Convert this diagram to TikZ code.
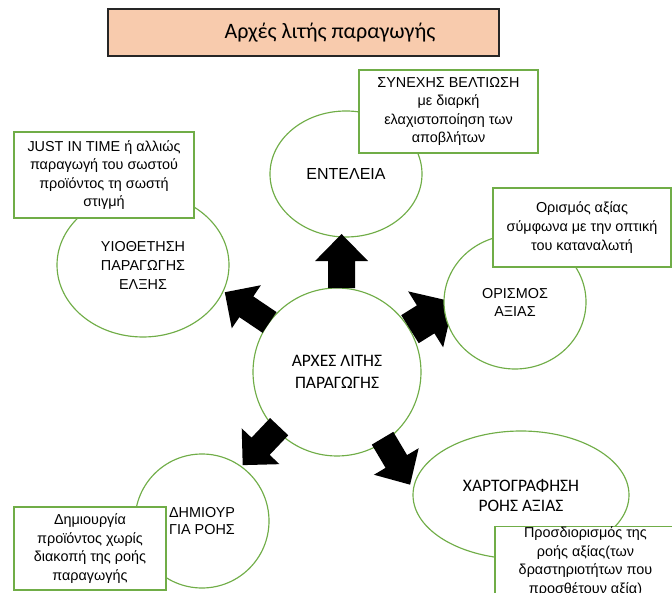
\documentclass[tikz,border=0pt]{standalone}
\usepackage{fontspec}
\setmainfont{Liberation Sans}
\newfontfamily\calibri{Carlito}
\usetikzlibrary{shapes.geometric,calc}
\definecolor{leafgreen}{HTML}{70AD47}
\definecolor{peach}{HTML}{F8CBAD}

\tikzset{
  bubble/.style={ellipse, draw=leafgreen, line width=1.15pt, fill=white,
    inner sep=0pt, align=center},
  notebox/.style={rectangle, draw=leafgreen, line width=1.15pt, fill=white,
    inner sep=0pt, align=center, font=\fontsize{14.4}{18.6}\selectfont},
  titlebox/.style={rectangle, draw=black!85, line width=1.5pt, fill=peach,
    inner sep=0pt, font=\calibri\fontsize{22}{26}\selectfont},
  % block arrow along +x: shaft width, shaft length, head width, head length
  pics/blockarrow/.style n args={4}{code={
    \fill[black] (0,-#1/2) -- (#2,-#1/2) -- (#2,-#3/2) -- (#2+#4,0)
      -- (#2,#3/2) -- (#2,#1/2) -- (0,#1/2) -- cycle;
  }}
}

\begin{document}
\begin{tikzpicture}[x=1pt,y=1pt]
\clip (0,0) rectangle (672,592);

% central principle
\node[bubble, minimum width=168, minimum height=168,
  font=\calibri\fontsize{17.5}{22}\selectfont] (C) at (337,220)
  {ΑΡΧΕΣ ΛΙΤΗΣ\\ΠΑΡΑΓΩΓΗΣ};

% the arrow towards ΟΡΙΣΜΟΣ sits beneath its bubble
\pic[rotate=32] at ($(C.center)+(30.4:84.6)$) {blockarrow={33}{18.5}{66}{33}};

% surrounding principles
\node[bubble, minimum width=152, minimum height=126,
  font=\fontsize{16}{19}\selectfont] (perf) at (346,418) {ΕΝΤΕΛΕΙΑ};
\node[bubble, minimum width=172, minimum height=144,
  font=\fontsize{14.4}{19}\selectfont] (pull) at (143,327)
  {ΥΙΟΘΕΤΗΣΗ\\ΠΑΡΑΓΩΓΗΣ\\ΕΛΞΗΣ};
\node[bubble, minimum width=142, minimum height=134,
  font=\fontsize{14.4}{18}\selectfont] (value) at (515,290)
  {ΟΡΙΣΜΟΣ\\ΑΞΙΑΣ};
\node[bubble, minimum width=134, minimum height=134,
  font=\fontsize{14.4}{17}\selectfont] (flow) at (202,71)
  {ΔΗΜΙΟΥΡ\\ΓΙΑ ΡΟΗΣ};
\node[bubble, minimum width=216, minimum height=128,
  font=\calibri\fontsize{17.5}{20}\selectfont] (map) at (521,97)
  {ΧΑΡΤΟΓΡΑΦΗΣΗ\\ΡΟΗΣ ΑΞΙΑΣ};

% remaining arrows out of the centre
\pic[rotate=90]    at ($(C.center)+(86.9:84.1)$)  {blockarrow={27}{27}{53}{27}};
\pic[rotate=146]   at ($(C.center)+(143.7:83.7)$) {blockarrow={25}{28}{52}{26}};
\pic[rotate=226.5] at ($(C.center)+(223.4:79.6)$) {blockarrow={25}{27}{52}{26}};
\pic[rotate=300.7] at ($(C.center)+(304.5:80.4)$) {blockarrow={25}{27}{52}{27}};

% explanatory notes
\node[notebox, minimum width=180, minimum height=86] (jit) at (104,417)
  {JUST IN TIME ή αλλιώς\\παραγωγή του σωστού\\προϊόντος τη σωστή\\στιγμή};
\node[notebox, minimum width=179, minimum height=83] (kaizen) at (448.5,480.5)
  {ΣΥΝΕΧΗΣ ΒΕΛΤΙΩΣΗ\\με διαρκή\\ελαχιστοποίηση των\\αποβλήτων};
\node[notebox, minimum width=178, minimum height=79] (customer) at (582,364.5)
  {Ορισμός αξίας\\σύμφωνα με την οπτική\\του καταναλωτή};
\node[notebox, minimum width=152, minimum height=83] (nonstop) at (90,43.5)
  {Δημιουργία\\προϊόντος χωρίς\\διακοπή της ροής\\παραγωγής};
\node[notebox, minimum width=181, minimum height=69] (stream) at (585.5,30.5)
  {Προσδιορισμός της\\ροής αξίας(των\\δραστηριοτήτων που\\προσθέτουν αξία)};

% heading
\node[titlebox, minimum width=391, minimum height=47] (title) at (303.5,559.5)
  {\hspace*{53pt}Αρχές λιτής παραγωγής};
\end{tikzpicture}
\end{document}
